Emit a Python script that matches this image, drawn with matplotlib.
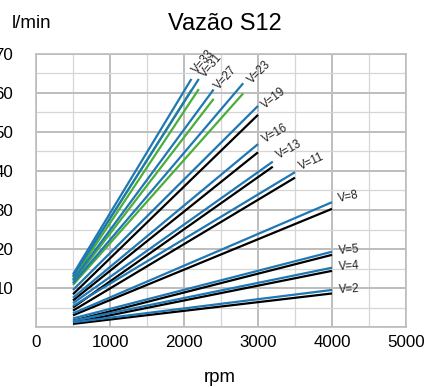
import matplotlib.pyplot as plt
from matplotlib.ticker import MultipleLocator

plt.rcParams['font.family'] = ['Liberation Sans', 'DejaVu Sans']

# displacement labels and max speed of each curve
labels = ["V=33", "V=31", "V=27", "V=23", "V=19", "V=16", "V=13", "V=11", "V=8", "V=5", "V=4", "V=2"]
rpm_start = 500
rpm_end = [2100, 2200, 2400, 2800, 3000, 3000, 3200, 3500, 4000, 4000, 4000, 4000]

# flow (l/min) at start and end speed
blue_start = [13.5, 13.0, 12.0, 11.2, 9.5, 7.5, 6.1, 5.4, 3.5, 2.2, 1.6, 1.2]
blue_end = [63.6, 63.6, 60.9, 62.5, 56.7, 46.9, 42.4, 39.7, 32.0, 19.3, 15.2, 9.5]
second_start = [12.8, 12.3, 11.6, 10.8, 8.4, 6.8, 5.0, 4.2, 3.0, 1.6, 1.1, 0.8]
second_end = [60.8, 61.0, 58.5, 59.9, 54.4, 44.8, 41.1, 38.3, 30.3, 18.5, 14.4, 8.6]
second_color = ["#4aae3a"] * 4 + ["black"] * 8

# label placement (center px, rotation)
label_pos = [(203, 62, 50), (211, 66, 50), (226, 78, 48), (259, 72, 45),
             (274, 98, 38), (275, 134, 30), (289, 150, 30), (312, 162, 25),
             (348, 197, 12), (349, 250, 5), (349, 266, 4), (349, 289, 3)]

W, H = 428, 387
fig = plt.figure(figsize=(W / 100, H / 100), dpi=100)
ax = fig.add_axes([36 / W, 1 - 327 / H, 370 / W, 273 / H])

for i in range(len(labels)):
    ax.plot([rpm_start, rpm_end[i]], [second_start[i], second_end[i]],
            color=second_color[i], lw=1.6, solid_capstyle='butt', zorder=3)
for i in range(len(labels)):
    ax.plot([rpm_start, rpm_end[i]], [blue_start[i], blue_end[i]],
            color="#1f77b4", lw=1.6, solid_capstyle='butt', zorder=4)

for lab, (px, py, rot) in zip(labels, label_pos):
    fig.text(px / W, 1 - py / H, lab, fontsize=8.3, rotation=rot,
             ha='center', va='center', rotation_mode='anchor', color='#222222')

ax.set_xlim(0, 5000)
ax.set_ylim(0, 70)
ax.xaxis.set_major_locator(MultipleLocator(1000))
ax.xaxis.set_minor_locator(MultipleLocator(500))
ax.yaxis.set_minor_locator(MultipleLocator(5))
ax.set_yticks(range(0, 71, 10))
ax.set_yticklabels([""] + [str(v) for v in range(10, 71, 10)])

ax.grid(which='major', color='#bdbdbd', lw=1.4, zorder=0)
ax.grid(which='minor', color='#d6d6d6', lw=0.9, zorder=0)
ax.set_axisbelow(True)
for s in ax.spines.values():
    s.set_color('#bdbdbd')
    s.set_linewidth(1.2)

ax.tick_params(which='both', length=0, labelsize=12.2)
ax.tick_params(axis='x', pad=6)
ax.tick_params(axis='y', pad=16.5)

fig.text(225 / W, 1 - 24 / H, "Vazão S12", fontsize=17, ha='center', va='center')
fig.text(32 / W, 1 - 24 / H, "l/min", fontsize=13.5, ha='center', va='center')
fig.text(220 / W, 1 - 377 / H, "rpm", fontsize=13.4, ha='center', va='center')

fig.savefig("out.png", dpi=100)
